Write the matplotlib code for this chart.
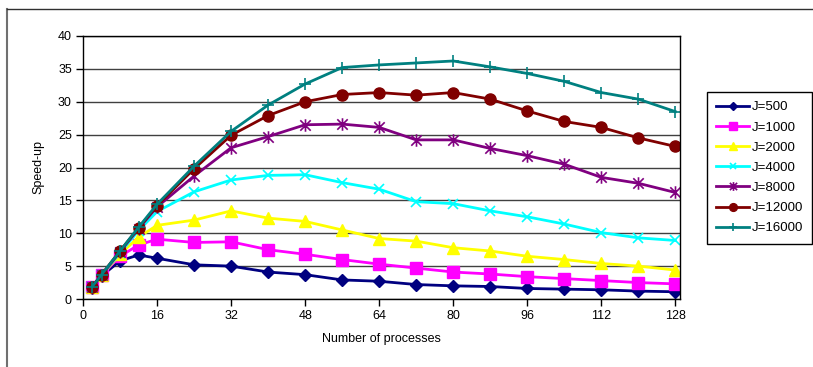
import matplotlib.pyplot as plt
from matplotlib.lines import Line2D
from matplotlib.path import Path

plt.rcParams['font.family'] = ['Liberation Sans', 'DejaVu Sans']
plt.rcParams['font.size'] = 9

# número de procesos
procs = [2, 4, 8, 12, 16, 24, 32, 40, 48, 56, 64, 72, 80, 88, 96, 104, 112, 120, 128]

# speed-up para cada J
j500 = [1.7, 3.5, 5.8, 6.7, 6.2, 5.2, 5.0, 4.1, 3.7, 2.9, 2.7, 2.2, 2.0, 1.9, 1.6, 1.5, 1.4, 1.2, 1.1]
j1000 = [1.8, 3.6, 6.5, 8.2, 9.1, 8.6, 8.7, 7.5, 6.8, 6.0, 5.3, 4.7, 4.1, 3.8, 3.4, 3.1, 2.8, 2.5, 2.3]
j2000 = [1.8, 3.6, 6.8, 9.4, 11.2, 12.0, 13.4, 12.3, 11.8, 10.5, 9.2, 8.8, 7.8, 7.3, 6.5, 6.0, 5.4, 5.0, 4.4]
j4000 = [1.8, 3.6, 7.0, 10.4, 13.3, 16.3, 18.1, 18.8, 18.9, 17.7, 16.7, 14.8, 14.5, 13.4, 12.5, 11.4, 10.1, 9.3, 8.9]
j8000 = [1.8, 3.6, 7.2, 10.7, 14.0, 18.7, 23.0, 24.7, 26.5, 26.6, 26.1, 24.2, 24.2, 22.9, 21.8, 20.5, 18.5, 17.6, 16.2]
j12000 = [1.9, 3.7, 7.3, 10.8, 14.2, 19.8, 24.9, 27.9, 30.0, 31.1, 31.4, 31.0, 31.4, 30.4, 28.6, 27.0, 26.1, 24.5, 23.2]
j16000 = [1.9, 3.7, 7.3, 10.9, 14.4, 20.2, 25.5, 29.5, 32.7, 35.2, 35.6, 35.9, 36.2, 35.3, 34.3, 33.1, 31.4, 30.4, 28.5]

labels = ["J=500", "J=1000", "J=2000", "J=4000", "J=8000", "J=12000", "J=16000"]

# marcador estrella tipo Excel: una X con una raya vertical
star = Path([(-1, -1), (1, 1), (-1, 1), (1, -1), (0, -1.2), (0, 1.2)],
            [Path.MOVETO, Path.LINETO, Path.MOVETO, Path.LINETO, Path.MOVETO, Path.LINETO])

fig = plt.figure(figsize=(8.13, 3.67), dpi=100)

# marco exterior del gráfico (solo se ven los bordes izquierdo y superior)
fig.lines.append(Line2D([6.5 / 813, 6.5 / 813], [0, 1 - 8.5 / 367], transform=fig.transFigure,
                        color='#707070', lw=1.5))
fig.lines.append(Line2D([6.5 / 813, 1], [1 - 8.5 / 367, 1 - 8.5 / 367], transform=fig.transFigure,
                        color='#303030', lw=1))

ax = fig.add_axes([83 / 813, 1 - 299 / 367, 597 / 813, 263 / 367])

ax.plot(procs, j500, color='#000080', marker='D', ms=6, lw=2, label=labels[0])
ax.plot(procs, j1000, color='#FF00FF', marker='s', ms=8, lw=2, label=labels[1])
ax.plot(procs, j2000, color='#FFFF00', marker='^', ms=8, lw=2, label=labels[2])
ax.plot(procs, j4000, color='#00FFFF', marker='x', ms=7, mew=1.2, lw=2, label=labels[3])
ax.plot(procs, j8000, color='#800080', marker=star, ms=9, mew=1.2, lw=2, label=labels[4])
ax.plot(procs, j12000, color='#800000', marker='o', ms=8, lw=2, label=labels[5])
ax.plot(procs, j16000, color='#008080', marker='+', ms=8, mew=1.2, lw=2, label=labels[6])

ax.set_xlim(0, 129)
ax.set_ylim(0, 40)
ax.set_xticks(range(0, 129, 16))
ax.set_yticks(range(0, 41, 5))
ax.yaxis.grid(True, color='#404040', lw=1)
ax.set_axisbelow(True)
for s in ax.spines.values():
    s.set_color('black')
    s.set_linewidth(1)
ax.tick_params(direction='out', length=5, width=1, colors='black', pad=3)

ax.set_xlabel("Number of processes", labelpad=8)
ax.set_ylabel("Speed-up", labelpad=10)

leg = ax.legend(loc='upper left', bbox_to_anchor=(707 / 813, 1 - 92 / 367),
                bbox_transform=fig.transFigure, fancybox=False, edgecolor='black',
                framealpha=1, handlelength=2.5, labelspacing=0.6, borderaxespad=0,
                handletextpad=0.2, borderpad=0.7, markerscale=0.7, fontsize=9.5)
leg.get_frame().set_linewidth(1)

fig.savefig("out.png", dpi=100)
